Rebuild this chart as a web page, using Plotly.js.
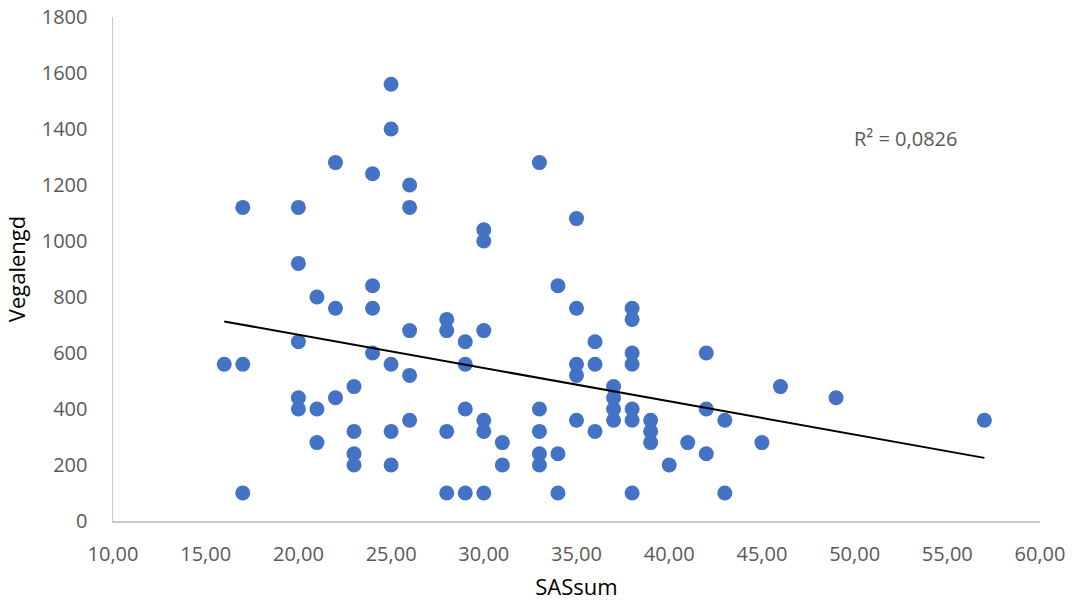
<!DOCTYPE html>
<html>
<head>
<meta charset="utf-8">
<script src="https://cdn.plot.ly/plotly-3.0.1.min.js"></script>
<style>html,body{margin:0;padding:0;background:#fff;}#chart{width:1072px;height:607px;}</style>
</head>
<body>
<div id="chart"></div>
<script>
// SASsum values (x)
const sasSum = [
  16, 17, 17, 17,
  20, 20, 20, 20, 20,
  21, 21, 21,
  22, 22, 22,
  23, 23, 23, 23,
  24, 24, 24, 24,
  25, 25, 25, 25, 25,
  26, 26, 26, 26, 26,
  28, 28, 28, 28,
  29, 29, 29, 29,
  30, 30, 30, 30, 30, 30,
  31, 31,
  33, 33, 33, 33, 33,
  34, 34, 34,
  35, 35, 35, 35, 35,
  36, 36, 36,
  37, 37, 37, 37,
  38, 38, 38, 38, 38, 38, 38,
  39, 39, 39,
  40, 41,
  42, 42, 42,
  43, 43,
  45, 46, 49, 57
];
// Vegalengd values (y)
const vegalengd = [
  560, 560, 1120, 100,
  1120, 920, 640, 440, 400,
  800, 400, 280,
  1280, 760, 440,
  480, 320, 240, 200,
  1240, 840, 760, 600,
  1560, 1400, 560, 320, 200,
  1200, 1120, 680, 520, 360,
  720, 680, 320, 100,
  640, 560, 400, 100,
  1040, 1000, 680, 360, 320, 100,
  280, 200,
  1280, 400, 320, 240, 200,
  840, 240, 100,
  1080, 760, 560, 520, 360,
  640, 560, 320,
  480, 440, 400, 360,
  760, 720, 600, 560, 400, 360, 100,
  360, 320, 280,
  200, 280,
  600, 400, 240,
  360, 100,
  280, 480, 440, 360
];
const xTicks = [10, 15, 20, 25, 30, 35, 40, 45, 50, 55, 60];
const xTickLabels = ["10,00", "15,00", "20,00", "25,00", "30,00", "35,00", "40,00", "45,00", "50,00", "55,00", "60,00"];
const yTicks = [0, 200, 400, 600, 800, 1000, 1200, 1400, 1600, 1800];
const r2Label = "R² = 0,0826";

// Linear trendline (least squares) computed from the data
const n = sasSum.length;
let sx = 0, sy = 0, sxx = 0, sxy = 0;
for (let i = 0; i < n; i++) {
  sx += sasSum[i]; sy += vegalengd[i];
  sxx += sasSum[i] * sasSum[i]; sxy += sasSum[i] * vegalengd[i];
}
const slope = (n * sxy - sx * sy) / (n * sxx - sx * sx);
const intercept = (sy - slope * sx) / n;
const xMin = Math.min(...sasSum), xMax = Math.max(...sasSum);
const trendX = [xMin, xMax];
const trendY = trendX.map(v => intercept + slope * v);

const tickFont = {family: "Open Sans, Liberation Sans, sans-serif", size: 20, color: "#595959"};
const titleFont = {family: "Open Sans, Liberation Sans, sans-serif", size: 22, color: "#000000"};

const traces = [
  {
    type: "scatter", mode: "markers", x: sasSum, y: vegalengd,
    marker: {color: "#4472C4", size: 15, line: {width: 0}},
    showlegend: false, hoverinfo: "x+y"
  },
  {
    type: "scatter", mode: "lines", x: trendX, y: trendY,
    line: {color: "#000000", width: 2},
    showlegend: false, hoverinfo: "skip"
  }
];

const layout = {
  width: 1072, height: 607,
  margin: {l: 113, r: 32, t: 17, b: 86},
  paper_bgcolor: "#ffffff", plot_bgcolor: "#ffffff",
  separators: ",.",
  xaxis: {
    range: [10, 60], tickmode: "array", tickvals: xTicks, ticktext: xTickLabels,
    showgrid: false, zeroline: false, showline: true, linecolor: "#c9c9c9", linewidth: 1.5,
    ticks: "", ticklabelstandoff: 14, tickfont: tickFont, automargin: false,
    title: {text: "SASsum", font: titleFont, standoff: 14}
  },
  yaxis: {
    range: [0, 1800], tickmode: "array", tickvals: yTicks, ticktext: yTicks.map(String),
    showgrid: false, zeroline: false, showline: true, linecolor: "#c9c9c9", linewidth: 1.5,
    ticks: "", ticklabelstandoff: 20, tickfont: tickFont, automargin: false,
    title: {text: "Vegalengd", font: titleFont, standoff: 10}
  },
  annotations: [{
    text: r2Label, xref: "paper", yref: "paper", x: 0.797, y: 0.758,
    xanchor: "left", yanchor: "middle", showarrow: false,
    font: {family: "Open Sans, Liberation Sans, sans-serif", size: 20, color: "#595959"}
  }]
};

Plotly.newPlot("chart", traces, layout, {displayModeBar: false, staticPlot: true});
</script>
</body>
</html>
